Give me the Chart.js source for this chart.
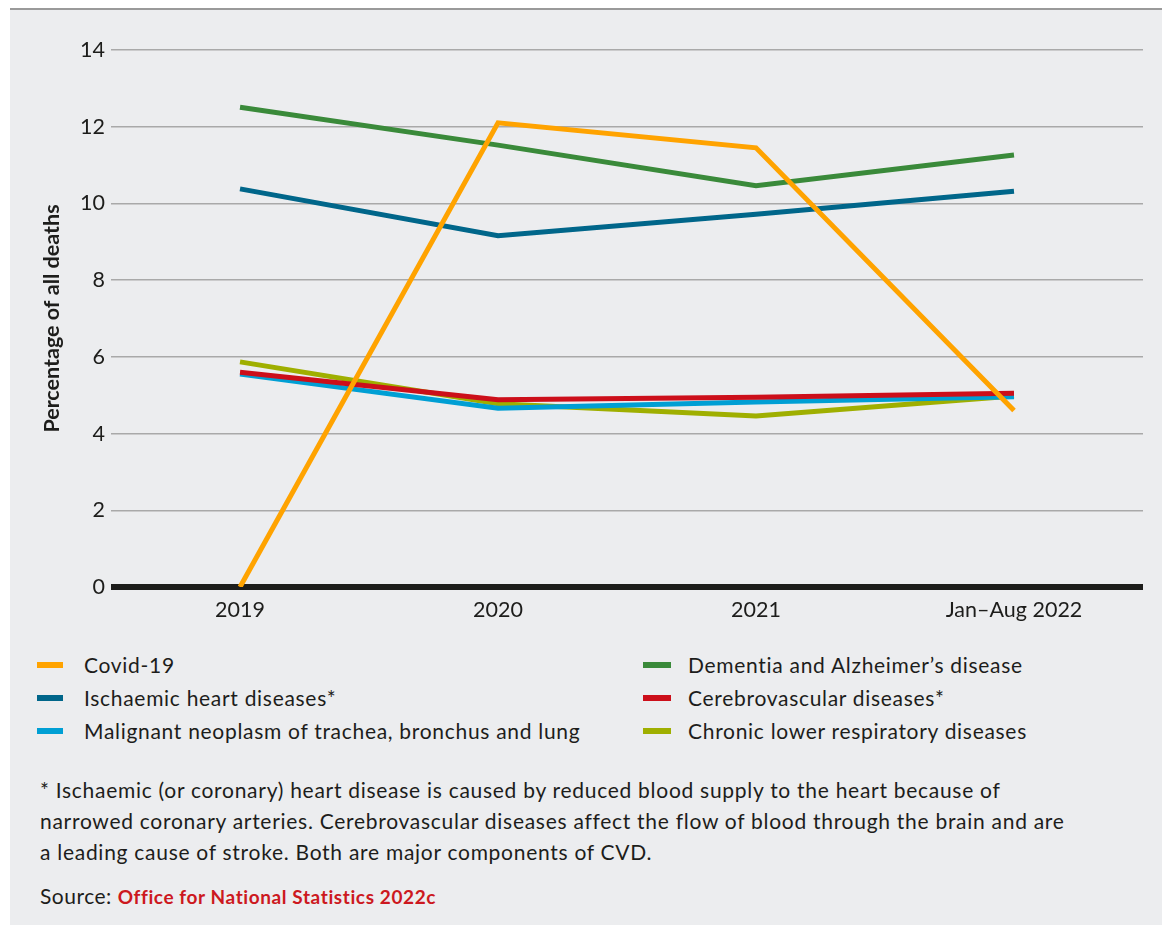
<!DOCTYPE html>
<html>
<head>
<meta charset="utf-8">
<script src="https://cdn.jsdelivr.net/npm/chart.js@4.4.1/dist/chart.umd.min.js"></script>
<style>
  html, body { margin: 0; padding: 0; background: #ffffff; }
  body { width: 1162px; height: 925px; position: relative; overflow: hidden; font-family: Lato, "Open Sans", sans-serif; color: #1d1d1b; }
  #rule { position: absolute; left: 10px; right: 0; top: 8px; height: 2px; background: #9a9a9a; }
  #panel { position: absolute; left: 10px; top: 10px; right: 0; bottom: 0; background: #ecedef; }
  #chartBox { position: absolute; left: 10px; top: 10px; width: 1152px; height: 640px; }
  #legend { position: absolute; left: 37px; top: 650px; width: 1100px; }
  .item { position: absolute; font-size: 21px; line-height: 26px; letter-spacing: 0.7px; white-space: nowrap; }
  .swatch { position: absolute; top: 10px; width: 26px; height: 6px; }
  .item span.txt { position: absolute; left: 47px; top: 0; }
  #notes { position: absolute; left: 40px; top: 774px; font-size: 21px; line-height: 31px; letter-spacing: 0.72px; width: 1110px; white-space: nowrap; }
  #source { position: absolute; left: 40px; top: 883px; font-size: 21px; letter-spacing: 0.5px; }
  #source b { color: #cc1820; font-size: 19px; letter-spacing: 0.6px; }
</style>
</head>
<body>
<div id="rule"></div>
<div id="panel"></div>
<div id="chartBox"><canvas id="c" width="1152" height="640"></canvas></div>
<div id="legend"></div>
<div id="notes">* Ischaemic (or coronary) heart disease is caused by reduced blood supply to the heart because of<br>narrowed coronary arteries. Cerebrovascular diseases affect the flow of blood through the brain and are<br>a leading cause of stroke. Both are major components of CVD.</div>
<div id="source">Source: <b>Office for National Statistics 2022c</b></div>
<script>
// Share of all deaths (%) by leading cause
const years = ['2019', '2020', '2021', 'Jan–Aug 2022'];
const covid = [0, 12.1, 11.45, 4.6];
const dementia = [12.51, 11.52, 10.46, 11.26];
const ischaemic = [10.38, 9.16, 9.72, 10.32];
const cerebrovascular = [5.6, 4.88, 4.95, 5.05];
const lungCancer = [5.55, 4.66, 4.82, 4.96];
const chronicResp = [5.87, 4.78, 4.46, 4.98];
const yTicks = [0, 2, 4, 6, 8, 10, 12, 14];

const series = [
  { label: 'Covid-19', data: covid, color: '#ffa300', col: 0, row: 0 },
  { label: 'Dementia and Alzheimer’s disease', data: dementia, color: '#3a8a3a', col: 1, row: 0 },
  { label: 'Ischaemic heart diseases*', data: ischaemic, color: '#00668a', col: 0, row: 1 },
  { label: 'Cerebrovascular diseases*', data: cerebrovascular, color: '#cc0f1a', col: 1, row: 1 },
  { label: 'Malignant neoplasm of trachea, bronchus and lung', data: lungCancer, color: '#009fd4', col: 0, row: 2 },
  { label: 'Chronic lower respiratory diseases', data: chronicResp, color: '#9faf00', col: 1, row: 2 }
];

// Two-column legend
const legend = document.getElementById('legend');
series.forEach(s => {
  const el = document.createElement('div');
  el.className = 'item';
  el.style.left = (s.col ? 606 : 0) + 'px';
  el.style.top = (s.row * 33 + 2) + 'px';
  el.innerHTML = '<div class="swatch" style="background:' + s.color + (s.col ? ';width:28px' : '') + '"></div><span class="txt">' + s.label + '</span>';
  if (s.col) el.querySelector('.txt').style.left = '45px';
  legend.appendChild(el);
});

new Chart(document.getElementById('c'), {
  type: 'line',
  data: {
    labels: years,
    datasets: series.map(s => ({
      label: s.label,
      data: s.data,
      borderColor: s.color,
      backgroundColor: s.color,
      borderWidth: 5,
      pointRadius: 0,
      tension: 0,
      fill: false
    }))
  },
  options: {
    responsive: false,
    animation: false,
    layout: { padding: { top: 40, right: 19, bottom: 20, left: 0 } },
    plugins: { legend: { display: false }, tooltip: { enabled: false } },
    scales: {
      x: {
        offset: true,
        grid: { display: false, drawTicks: false },
        border: { display: false },
        ticks: { color: '#1d1d1b', padding: 10, font: { family: 'Lato', size: 21.5 } },
        afterFit: s => { s.height = 43; }
      },
      y: {
        min: 0,
        max: 14,
        afterBuildTicks: s => { s.ticks = yTicks.map(v => ({ value: v })); },
        grid: {
          drawTicks: false,
          color: c => c.tick && c.tick.value === 0 ? '#1d1d1b' : '#a9a9a9',
          lineWidth: c => c.tick && c.tick.value === 0 ? 6 : 1.5
        },
        border: { display: false },
        ticks: { color: '#1d1d1b', padding: 6, font: { family: 'Lato', size: 21.5 } },
        title: {
          display: true,
          text: 'Percentage of all deaths',
          color: '#1d1d1b',
          font: { family: 'Lato', size: 21.5, weight: 'bold' },
          padding: { top: 29, bottom: 0 }
        },
        afterFit: s => { s.width = 101; }
      }
    }
  }
});
</script>
</body>
</html>
